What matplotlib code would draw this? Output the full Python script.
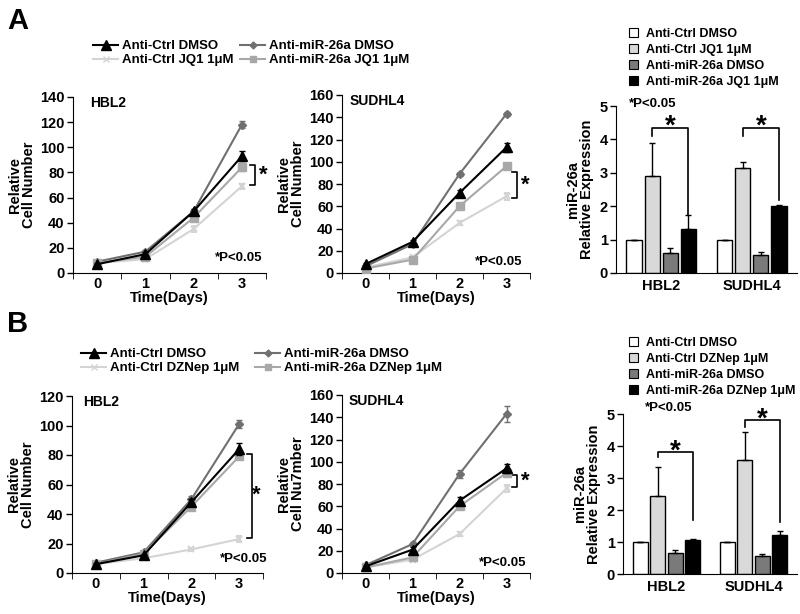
import matplotlib
matplotlib.use("Agg")
import matplotlib.pyplot as plt
from matplotlib.lines import Line2D
from matplotlib.patches import Patch

plt.rcParams['font.family'] = ['Liberation Sans', 'DejaVu Sans']
plt.rcParams['font.weight'] = 'bold'
plt.rcParams['axes.labelweight'] = 'bold'
plt.rcParams['font.size'] = 9.5

# ---- data ----
days = ['0', '1', '2', '3']

# panel A, growth curves
a_hbl2_ctrl_dmso = [7, 15, 49, 93]
a_hbl2_ctrl_jq1 = [8, 11, 35, 69]
a_hbl2_mir_dmso = [9, 17, 49, 118]
a_hbl2_mir_jq1 = [8, 13, 44, 84]
a_hbl2_err = [[1, 1.5, 2, 4], [1, 1, 2, 2], [1, 1.5, 2, 3], [1, 1, 2, 3]]

a_sud_ctrl_dmso = [8, 28, 72, 113]
a_sud_ctrl_jq1 = [5, 14, 45, 69]
a_sud_mir_dmso = [6, 26, 89, 143]
a_sud_mir_jq1 = [4, 12, 60, 96]
a_sud_err = [[1, 2, 3, 4], [1, 1, 2, 3], [1, 1, 2, 2], [1, 1, 2, 2]]

# panel B, growth curves
b_hbl2_ctrl_dmso = [6, 12, 48, 84]
b_hbl2_ctrl_dz = [6, 10, 16, 23]
b_hbl2_mir_dmso = [7, 14, 50, 101]
b_hbl2_mir_dz = [6, 13, 45, 79]
b_hbl2_err = [[1, 1, 2, 4], [1, 1, 1, 2], [1, 1, 2, 3], [1, 1, 2, 2]]

b_sud_ctrl_dmso = [6, 21, 65, 94]
b_sud_ctrl_dz = [5, 12, 35, 76]
b_sud_mir_dmso = [7, 26, 89, 143]
b_sud_mir_dz = [5, 14, 60, 90]
b_sud_err = [[1, 2, 3, 4], [1, 1, 2, 3], [1, 2, 4, 7], [1, 1, 2, 2]]

# bar charts, miR-26a expression
cells = ['HBL2', 'SUDHL4']
a_bar_vals = [[1, 1], [2.9, 3.13], [0.6, 0.55], [1.32, 2.0]]
a_bar_err = [[0, 0], [1.0, 0.2], [0.15, 0.07], [0.42, 0.05]]
b_bar_vals = [[1, 1], [2.45, 3.57], [0.65, 0.57], [1.07, 1.22]]
b_bar_err = [[0, 0], [0.9, 0.88], [0.1, 0.07], [0.02, 0.13]]

a_names = ['Anti-Ctrl DMSO', 'Anti-Ctrl JQ1 1\u03bcM', 'Anti-miR-26a DMSO', 'Anti-miR-26a JQ1 1\u03bcM']
b_names = ['Anti-Ctrl DMSO', 'Anti-Ctrl DZNep 1\u03bcM', 'Anti-miR-26a DMSO', 'Anti-miR-26a DZNep 1\u03bcM']

# styles: ctrl dmso, ctrl drug, mir dmso, mir drug
line_colors = ['black', '#d4d4d4', '#707070', '#a8a8a8']
line_markers = ['^', 'x', 'D', 's']
marker_sizes = [7.5, 5, 4.5, 5.5]
bar_colors = ['white', '#d9d9d9', '#7a7a7a', 'black']

W, H = 800, 614
fig = plt.figure(figsize=(8, 6.14), dpi=100)


def px_axes(x0, x1, ytop, ybot):
    return fig.add_axes([x0 / W, (H - ybot) / H, (x1 - x0) / W, (ybot - ytop) / H])


def style_axes(ax):
    ax.spines['top'].set_visible(False)
    ax.spines['right'].set_visible(False)
    ax.tick_params(axis='both', direction='out', length=4, width=1)


def growth_panel(ax, series, errs, ymax, ystep, title, title_x, ylab):
    style_axes(ax)
    x = range(len(days))
    for i, ys in enumerate(series):
        ax.errorbar(x, ys, yerr=errs[i], color=line_colors[i], marker=line_markers[i],
                    markersize=marker_sizes[i], lw=1.5, capsize=2, elinewidth=1,
                    mew=1.5 if line_markers[i] == 'x' else 1, zorder=3 + (i == 0))
    ax.set_xlim(-0.5, 3.5)
    ax.set_ylim(0, ymax)
    ax.set_yticks(range(0, ymax + 1, ystep))
    ax.set_xticks(list(x))
    ax.set_xticklabels(days, fontsize=10.5)
    ax.tick_params(axis='x', length=0, pad=3)
    ax.set_xticks([-0.5, 0.5, 1.5, 2.5, 3.5], minor=True)
    ax.tick_params(axis='x', which='minor', length=4, direction='out')
    ax.tick_params(axis='y', labelsize=10.5, pad=2)
    ax.set_xlabel('Time(Days)', fontsize=10.5, labelpad=0)
    ax.set_ylabel(ylab, fontsize=10.5, linespacing=1.0, labelpad=3)
    ax.text(title_x, ymax * 0.965, title, fontsize=10, va='center', ha='left')


def bracket(ax, x, y0, y1, arm=0.1, star_dx=0.17):
    ax.plot([x - arm, x, x, x - arm], [y0, y0, y1, y1], color='black', lw=1.2, clip_on=False)
    ax.text(x + star_dx, (y0 + y1) / 2, '*', fontsize=16, ha='center', va='center')


def bar_panel(ax, vals, errs, brackets):
    style_axes(ax)
    width = 0.17
    offsets = [-0.3, -0.1, 0.1, 0.3]
    for i in range(4):
        xs = [g + offsets[i] for g in range(len(cells))]
        ax.bar(xs, vals[i], width, color=bar_colors[i], edgecolor='black', lw=1,
               yerr=[[0] * len(cells), errs[i]], capsize=2,
               error_kw=dict(elinewidth=1, capthick=1), zorder=2)
    ax.set_xlim(-0.5, 1.5)
    ax.set_ylim(0, 5)
    ax.set_yticks(range(6))
    ax.set_xticks(range(len(cells)))
    ax.set_xticklabels(cells, fontsize=10.5)
    ax.tick_params(axis='x', length=0, pad=4)
    ax.tick_params(axis='y', labelsize=10.5, pad=2)
    ax.set_ylabel('miR-26a\nRelative Expression', fontsize=10.5, linespacing=1.0, labelpad=4)
    for g, top, left_low, right_low in brackets:
        xl = g + offsets[1]
        xr = g + offsets[3]
        ax.plot([xl, xl, xr, xr], [left_low, top, top, right_low], color='black', lw=1.2,
                clip_on=False, zorder=4)
        ax.text((xl + xr) / 2, top + 0.02, '*', fontsize=20, ha='center', va='center')


# ---- panel A ----
ax1 = px_axes(73, 266, 97, 273)
growth_panel(ax1, [a_hbl2_ctrl_dmso, a_hbl2_ctrl_jq1, a_hbl2_mir_dmso, a_hbl2_mir_jq1],
             a_hbl2_err, 140, 20, 'HBL2', -0.15, 'Relative\nCell Number')
bracket(ax1, 3.27, 86, 70)
ax1.text(3.42, 12, '*P<0.05', ha='right', va='center', fontsize=9.5)

ax2 = px_axes(342, 530, 95, 273)
growth_panel(ax2, [a_sud_ctrl_dmso, a_sud_ctrl_jq1, a_sud_mir_dmso, a_sud_mir_jq1],
             a_sud_err, 160, 20, 'SUDHL4', -0.33, 'Relative\nCell Number')
bracket(ax2, 3.22, 91, 67)
ax2.text(3.33, 10, '*P<0.05', ha='right', va='center', fontsize=9.5)

ax3 = px_axes(616, 797, 106, 273)
bar_panel(ax3, a_bar_vals, a_bar_err, [(0, 4.35, 4.1, 1.75), (1, 4.35, 4.1, 2.2)])
ax3.text(-0.36, 5.05, '*P<0.05', fontsize=9.5, ha='left', va='center', clip_on=False)

# ---- panel B ----
ax4 = px_axes(72, 263, 396, 573)
growth_panel(ax4, [b_hbl2_ctrl_dmso, b_hbl2_ctrl_dz, b_hbl2_mir_dmso, b_hbl2_mir_dz],
             b_hbl2_err, 120, 20, 'HBL2', -0.27, 'Relative\nCell Number')
bracket(ax4, 3.27, 81, 24, star_dx=0.1)
ax4.text(3.6, 9.5, '*P<0.05', ha='right', va='center', fontsize=9.5)

ax5 = px_axes(342, 530, 395, 573)
growth_panel(ax5, [b_sud_ctrl_dmso, b_sud_ctrl_dz, b_sud_mir_dmso, b_sud_mir_dz],
             b_sud_err, 160, 20, 'SUDHL4', -0.37, 'Relative\nCell Nu7mber')
bracket(ax5, 3.22, 88, 77)
ax5.text(3.43, 9, '*P<0.05', ha='right', va='center', fontsize=9.5)

ax6 = px_axes(623, 797, 414, 574)
bar_panel(ax6, b_bar_vals, b_bar_err, [(0, 3.81, 3.65, 1.69), (1, 4.8, 4.6, 1.64)])
ax6.text(-0.25, 5.2, '*P<0.05', fontsize=9.5, ha='left', va='center', clip_on=False)

# ---- legends ----
def line_handles():
    return [Line2D([], [], color=line_colors[i], marker=line_markers[i],
                   markersize=marker_sizes[i] - 1, lw=1.5) for i in range(4)]


def bar_handles():
    return [Patch(facecolor=bar_colors[i], edgecolor='black', lw=0.8) for i in range(4)]


leg_kw = dict(frameon=False, loc='upper left', borderpad=0, borderaxespad=0,
              fontsize=9.5, handlelength=1.9, handletextpad=0.3, labelspacing=0.15)
fig.legend(line_handles(), a_names, ncol=2, columnspacing=0.5,
           bbox_to_anchor=(93 / W, 1 - 40 / H), **leg_kw)
fig.legend(line_handles(), b_names, ncol=2, columnspacing=1.2,
           bbox_to_anchor=(81 / W, 1 - 348 / H), **leg_kw)

bar_kw = dict(frameon=False, loc='upper left', borderpad=0, borderaxespad=0,
              fontsize=9, handlelength=0.7, handleheight=0.7, handletextpad=0.7,
              labelspacing=0.32)
fig.legend(bar_handles(), a_names, bbox_to_anchor=(629 / W, 1 - 28 / H), **bar_kw)
fig.legend(bar_handles(), b_names, bbox_to_anchor=(629 / W, 1 - 337 / H), **bar_kw)

fig.text(7 / W, 1 - 21 / H, 'A', fontsize=21, va='center', ha='left')
fig.text(7 / W, 1 - 324 / H, 'B', fontsize=21, va='center', ha='left')

fig.savefig('out.png', dpi=100)
